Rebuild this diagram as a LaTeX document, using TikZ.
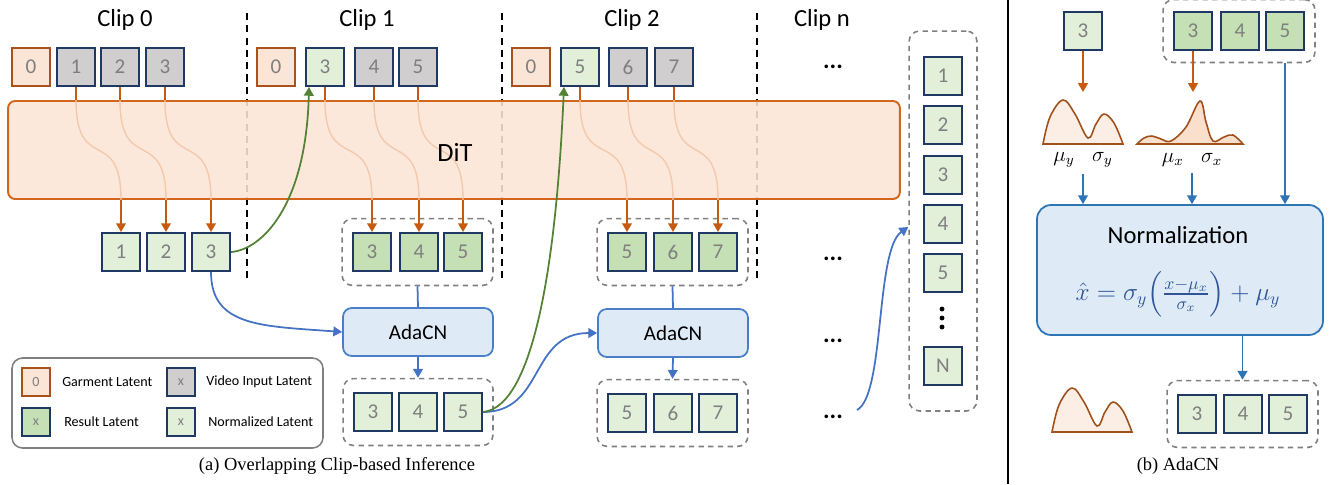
\documentclass[tikz,border=0pt]{standalone}
\usepackage{amsmath}
\usepackage{fontspec}
\setmainfont{Carlito}
\newfontfamily\capfont{Liberation Serif}
\usetikzlibrary{positioning}
\usetikzlibrary{fit}
\usetikzlibrary{arrows.meta}

\definecolor{garmfill}{HTML}{FBE5D6}
\definecolor{garmedge}{HTML}{A9521B}
\definecolor{vidfill}{HTML}{D0CECE}
\definecolor{latedge}{HTML}{1F3864}
\definecolor{resfill}{HTML}{C5E0B4}
\definecolor{nrmfill}{HTML}{E2F0D9}
\definecolor{numgray}{HTML}{7F7F7F}
\definecolor{orng}{HTML}{C55A11}
\definecolor{ditfill}{HTML}{FBE5D6}
\definecolor{ditedge}{HTML}{D2661C}
\definecolor{flow}{HTML}{4472C4}
\definecolor{bblue}{HTML}{2E75B6}
\definecolor{adafill}{HTML}{DEEBF7}
\definecolor{adaedge}{HTML}{4A7EC7}
\definecolor{grn}{HTML}{548235}
\definecolor{grpgray}{HTML}{808080}
\definecolor{eqblue}{HTML}{2F5597}
\definecolor{faint}{HTML}{F2C9AC}
\definecolor{distedge}{HTML}{A0501C}
\definecolor{distlight}{HTML}{FCEEE4}
\definecolor{distdark}{HTML}{F9DFCC}

\begin{document}
\begin{tikzpicture}
  [
    x=0.02cm, y=-0.02cm,
    lat/.style={draw=latedge, line width=1.1pt, minimum size=0.76cm,
      inner sep=0pt, text=numgray, font=\fontsize{12}{12}\selectfont},
    garm/.style={lat, draw=garmedge, fill=garmfill},
    vid/.style={lat, fill=vidfill},
    res/.style={lat, fill=resfill},
    nrm/.style={lat, fill=nrmfill},
    leg/.style={minimum size=0.56cm, font=\fontsize{8}{8}\selectfont},
    legtext/.style={anchor=west, inner sep=0pt, font=\fontsize{8}{9}\selectfont},
    grp/.style={draw=grpgray, dashed, dash pattern=on 3pt off 2.5pt,
      line width=0.9pt, rounded corners=6pt, inner xsep=0.2cm, inner ysep=0.27cm},
    sep/.style={draw=black, dashed, dash pattern=on 4pt off 3pt, line width=1pt},
    cliptext/.style={font=\fontsize{14}{14}\selectfont},
    more/.style={font=\bfseries\fontsize{14}{14}\selectfont, anchor=base},
    feed/.style={draw=orng, line width=1.1pt},
    oar/.style={feed, -{Triangle[width=5.5pt,length=5pt]}},
    pass/.style={draw=faint, line width=0.8pt},
    bar/.style={draw=flow, line width=1pt, -{Triangle[width=5.5pt,length=5pt]}},
    gar/.style={draw=grn, line width=1pt, -{Triangle[width=5.5pt,length=5pt]}},
    ada/.style={draw=adaedge, fill=adafill, line width=1pt, rounded corners=5pt,
      minimum width=3cm, minimum height=0.96cm, font=\fontsize{12}{12}\selectfont},
    dist/.style={draw=distedge, line width=0.9pt},
    caption/.style={font=\capfont\fontsize{10.5}{12}\selectfont}
  ]
  \useasboundingbox (0,0) rectangle (1333,484);

  % clip separators
  \draw [sep] (247,13) -- (247,283);
  \draw [sep] (502,13) -- (502,281);
  \draw [sep] (757,13) -- (757,281);

  \node (clip0) at (125,20) [cliptext] {Clip 0};
  \node (clip1) at (367,20) [cliptext] {Clip 1};
  \node (clip2) at (632,20) [cliptext] {Clip 2};
  \node (clipn) at (822,20) [cliptext] {Clip n};

  % DiT
  \node (dit) at (454,150) [draw=ditedge, fill=ditfill, fill opacity=0.88,
    line width=1.1pt, rounded corners=4pt,
    minimum width=17.84cm, minimum height=1.96cm] {};

  % inputs
  \node (c0s0) at ( 31,67) [garm] {0};
  \node (c0s1) at ( 76,67) [vid] {1};
  \node (c0s2) at (120,67) [vid] {2};
  \node (c0s3) at (165,67) [vid] {3};
  \node (c1s0) at (276,67) [garm] {0};
  \node (c1s3) at (325,67) [nrm] {3};
  \node (c1s4) at (374,67) [vid] {4};
  \node (c1s5) at (418,67) [vid] {5};
  \node (c2s0) at (531,67) [garm] {0};
  \node (c2s5) at (580,67) [nrm] {5};
  \node (c2s6) at (628,67) [vid] {6};
  \node (c2s7) at (674,67) [vid] {7};
  \node (dots0) at (833,68) [more] {...};

  % outputs
  \node (o0s1) at (121,252) [nrm] {1};
  \node (o0s2) at (166,252) [nrm] {2};
  \node (o0s3) at (211,252) [nrm] {3};
  \node (o1s3) at (372,252) [res] {3};
  \node (o1s4) at (419,252) [res] {4};
  \node (o1s5) at (463,252) [res] {5};
  \node (o2s5) at (627,252) [res] {5};
  \node (o2s6) at (673,252) [res] {6};
  \node (o2s7) at (718,252) [res] {7};
  \node (g1top) [grp, fit=(o1s3)(o1s5)] {};
  \node (g2top) [grp, fit=(o2s5)(o2s7)] {};
  \node (dots1) at (833,260) [more] {...};

  % through the DiT
  \draw [feed] (c0s1.south) -- (c0s1.south |- dit.north);
  \draw [feed] (c0s2.south) -- (c0s2.south |- dit.north);
  \draw [feed] (c0s3.south) -- (c0s3.south |- dit.north);
  \draw [feed] (c1s3.south) -- (c1s3.south |- dit.north);
  \draw [feed] (c1s4.south) -- (c1s4.south |- dit.north);
  \draw [feed] (c1s5.south) -- (c1s5.south |- dit.north);
  \draw [feed] (c2s5.south) -- (c2s5.south |- dit.north);
  \draw [feed] (c2s6.south) -- (c2s6.south |- dit.north);
  \draw [feed] (c2s7.south) -- (c2s7.south |- dit.north);

  \draw [pass] (c0s1 |- dit.north) .. controls +(0,75) and +(0,-75) .. (o0s1 |- dit.south);
  \draw [pass] (c0s2 |- dit.north) .. controls +(0,75) and +(0,-75) .. (o0s2 |- dit.south);
  \draw [pass] (c0s3 |- dit.north) .. controls +(0,75) and +(0,-75) .. (o0s3 |- dit.south);
  \draw [pass] (c1s3 |- dit.north) .. controls +(0,75) and +(0,-75) .. (o1s3 |- dit.south);
  \draw [pass] (c1s4 |- dit.north) .. controls +(0,75) and +(0,-75) .. (o1s4 |- dit.south);
  \draw [pass] (c1s5 |- dit.north) .. controls +(0,75) and +(0,-75) .. (o1s5 |- dit.south);
  \draw [pass] (c2s5 |- dit.north) .. controls +(0,75) and +(0,-75) .. (o2s5 |- dit.south);
  \draw [pass] (c2s6 |- dit.north) .. controls +(0,75) and +(0,-75) .. (o2s6 |- dit.south);
  \draw [pass] (c2s7 |- dit.north) .. controls +(0,75) and +(0,-75) .. (o2s7 |- dit.south);
  \node (dittext) at (455,152) [font=\fontsize{15}{15}\selectfont] {DiT};

  \draw [oar] (o0s1 |- dit.south) -- (o0s1.north);
  \draw [oar] (o0s2 |- dit.south) -- (o0s2.north);
  \draw [oar] (o0s3 |- dit.south) -- (o0s3.north);
  \draw [oar] (o1s3 |- dit.south) -- (o1s3.north);
  \draw [oar] (o1s4 |- dit.south) -- (o1s4.north);
  \draw [oar] (o1s5 |- dit.south) -- (o1s5.north);
  \draw [oar] (o2s5 |- dit.south) -- (o2s5.north);
  \draw [oar] (o2s6 |- dit.south) -- (o2s6.north);
  \draw [oar] (o2s7 |- dit.south) -- (o2s7.north);

  % AdaCN
  \node (ada1) at (418,332) [ada] {AdaCN};
  \node (ada2) at (673,333) [ada] {AdaCN};
  \node (dots2) at (833,342) [more] {...};

  \node (n1s3) at (373,412) [nrm] {3};
  \node (n1s4) at (418,412) [nrm] {4};
  \node (n1s5) at (463,412) [nrm] {5};
  \node (n2s5) at (627,413) [nrm] {5};
  \node (n2s6) at (673,413) [nrm] {6};
  \node (n2s7) at (718,413) [nrm] {7};
  \node (g1bot) [grp, fit=(n1s3)(n1s5)] {};
  \node (g2bot) [grp, fit=(n2s5)(n2s7)] {};
  \node (dots3) at (833,418) [more] {...};

  \draw [draw=flow, line width=1pt] (g1top.south) -- (ada1.north);
  \draw [draw=flow, line width=1pt] (g2top.south) -- (ada2.north);
  \draw [bar] (ada1.south) -- (g1bot.north);
  \draw [bar] (ada2.south) -- (g2bot.north);
  \draw [bar] (o0s3.south) .. controls +(0,55) and +(-80,-6) .. (ada1.west);
  \draw [bar] (n1s5.east) .. controls +(62,0) and +(-68,0) .. (ada2.west);

  \draw [gar] (o0s3.east) .. controls +(30,-2) and +(-3,120) .. ([xshift=-0.32cm]c1s3.south);
  \draw [gar] (n1s5.east) .. controls +(50,-5) and +(-8,180) .. ([xshift=-0.32cm]c2s5.south);

  % full sequence
  \node (f1) at (943, 76) [nrm] {1};
  \node (f2) at (943,125) [nrm] {2};
  \node (f3) at (943,175) [nrm] {3};
  \node (f4) at (943,224) [nrm] {4};
  \node (f5) at (943,273) [nrm] {5};
  \fill (942,309) circle (1.4pt) (942,318) circle (1.4pt) (942,327) circle (1.4pt);
  \node (fN) at (943,366) [nrm] {N};
  \node (fall) [grp, inner xsep=0.28cm, inner ysep=0.5cm, fit=(f1)(fN)] {};
  \coordinate (dstart) at (857,410);
  \draw [bar] (dstart) .. controls +(28,-15) and +(-33,23) .. ([yshift=-0.06cm]fall.west |- f4);

  % legend
  \draw [draw=grpgray, line width=0.9pt, rounded corners=6pt] (12,358) rectangle (323,448);
  \node (lg0) at ( 36,382) [garm, leg] {0};
  \node (lt0) at ( 62,382) [legtext] {Garment Latent};
  \node (lg1) at (181,382) [vid, leg] {x};
  \node (lt1) at (206,382) [legtext] {Video Input Latent};
  \node (lg2) at ( 36,422) [res, leg] {x};
  \node (lt2) at ( 64,422) [legtext] {Result Latent};
  \node (lg3) at (181,422) [nrm, leg] {x};
  \node (lt3) at (208,422) [legtext] {Normalized Latent};

  \node (capa) at (337,466) [caption] {(a) Overlapping Clip-based Inference};

  % panel divider
  \draw [line width=0.8pt] (1008,0) -- (1008,484);

  % AdaCN detail
  \node (qy) at (1083,31) [nrm] {3};
  \node (rb3) at (1193,31) [res] {3};
  \node (rb4) at (1240,31) [res] {4};
  \node (rb5) at (1285,31) [res] {5};
  \node (gb) [grp, inner ysep=0.23cm, fit=(rb3)(rb5)] {};

  \filldraw [dist, fill=distlight] plot [smooth, tension=0.6] coordinates
    {(1043,144) (1050,117) (1063,100) (1075,114) (1088,138) (1096,124) (1104,114) (1114,123) (1123,144)} -- cycle;
  \filldraw [dist, fill=distdark] plot [smooth, tension=0.6] coordinates
    {(1137,144) (1144,138) (1152,136) (1161,139) (1171,141) (1186,127) (1200,101) (1206,122) (1213,141) (1224,137) (1233,135) (1243,144)} -- cycle;
  \begin{scope}[shift={(9,288)}]
    \filldraw [dist, fill=distlight] plot [smooth, tension=0.6] coordinates
      {(1043,144) (1050,117) (1063,100) (1075,114) (1088,138) (1096,124) (1104,114) (1114,123) (1123,144)} -- cycle;
  \end{scope}
  \coordinate (peaky) at (1083,92);
  \coordinate (peakx) at (1193,92);
  \draw [oar] (qy.south) -- (peaky);
  \draw [oar] (rb3.south) -- (peakx);

  \node (statsy) at (1083,160) [font=\fontsize{12}{12}\selectfont] {$\mu_y\;\;\;\sigma_y$};
  \node (statsx) at (1192,160) [font=\fontsize{12}{12}\selectfont] {$\mu_x\;\;\;\sigma_x$};

  \node (normbox) at (1180,270) [draw=bblue, fill=adafill, line width=1pt, rounded corners=8pt,
    minimum width=5.72cm, minimum height=2.6cm] {};
  \node (normtitle) at (1178,235) [inner sep=0pt, font=\fontsize{14}{14}\selectfont] {Normalization};
  \node (normeq) at (1178,294) [inner sep=0pt, text=eqblue, font=\fontsize{14}{14}\selectfont]
    {$\hat{x} = \sigma_y \Bigl(\frac{x-\mu_x}{\sigma_x}\Bigr) + \mu_y$};

  \draw [bar, draw=bblue] (statsy.south) -- (statsy.south |- normbox.north);
  \draw [bar, draw=bblue] (statsx.south) -- (statsx.south |- normbox.north);
  \draw [bar, draw=bblue] (rb5.south |- gb.south) -- (rb5.south |- normbox.north);

  \node (nb3) at (1197,414) [nrm] {3};
  \node (nb4) at (1243,414) [nrm] {4};
  \node (nb5) at (1288,414) [nrm] {5};
  \node (gnb) [grp, fit=(nb3)(nb5)] {};
  \draw [bar, draw=bblue] (normbox.south -| gnb.north) -- (gnb.north);

  \node (capb) at (1178,466) [caption] {(b) AdaCN};
\end{tikzpicture}
\end{document}
